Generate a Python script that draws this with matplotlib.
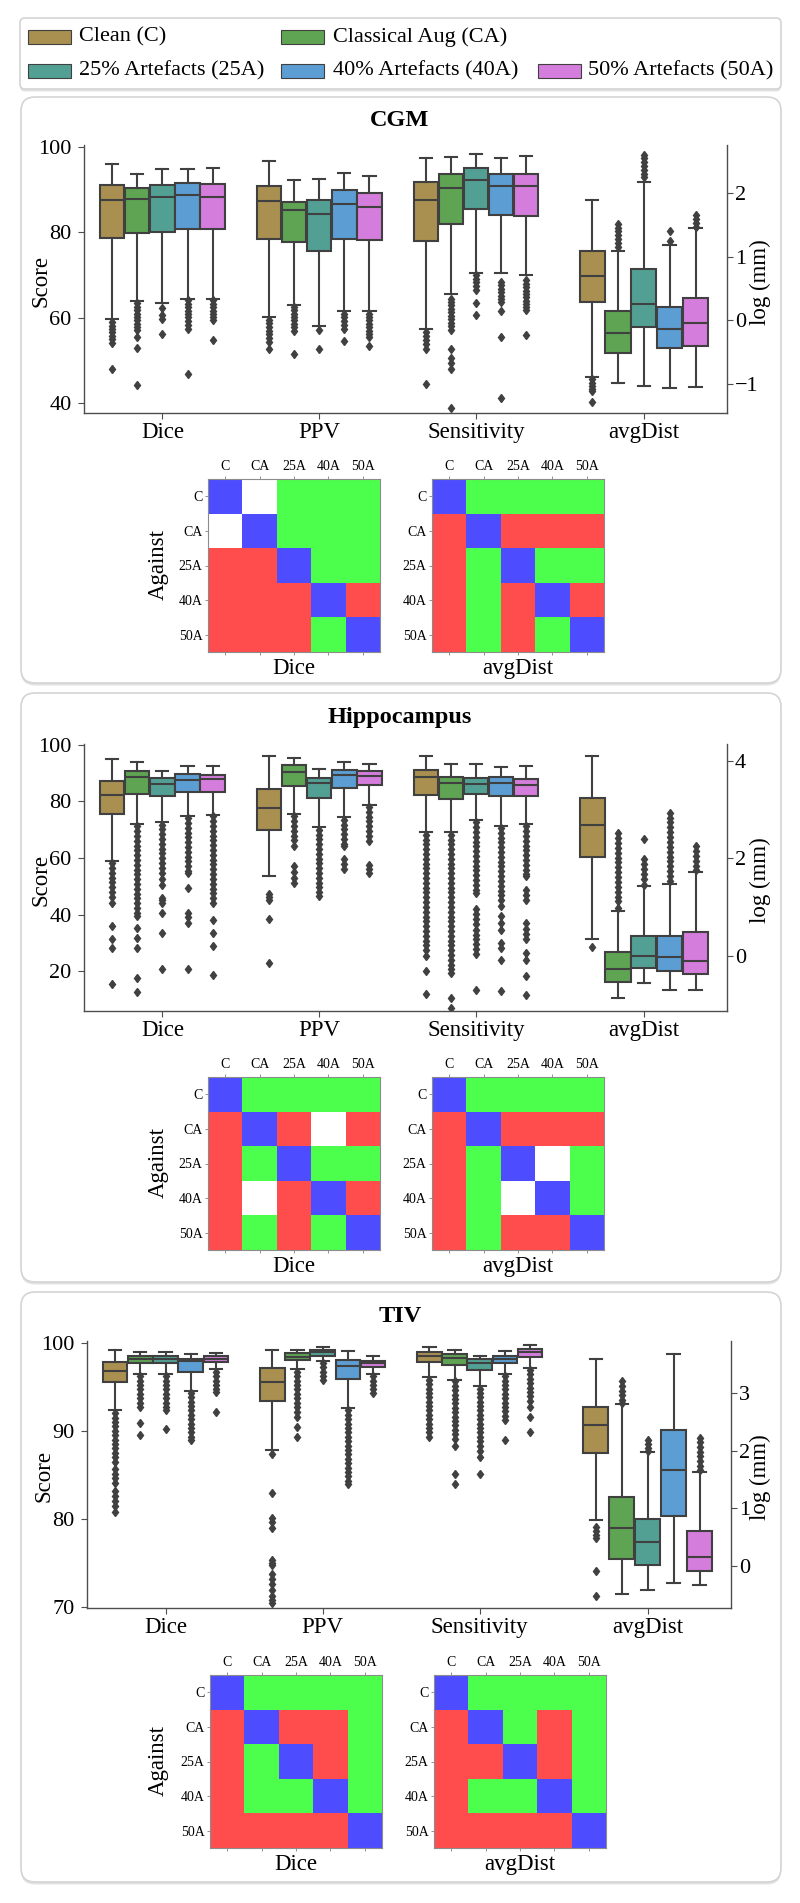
import numpy as np
import matplotlib
matplotlib.use("Agg")
import matplotlib.pyplot as plt
from matplotlib.colors import ListedColormap
from matplotlib.patches import FancyBboxPatch, Rectangle

plt.rcParams["font.family"] = ["Liberation Serif", "DejaVu Serif"]

W, H = 800, 1903
N = np.nan

methods = ["C", "CA", "25A", "40A", "50A"]
method_labels = ["Clean (C)", "Classical Aug (CA)", "25% Artefacts (25A)",
                 "40% Artefacts (40A)", "50% Artefacts (50A)"]
colours = ["#a99051", "#5fa453", "#52a094", "#5c9ed3", "#d57ddc"]
metrics = ["Dice", "PPV", "Sensitivity", "avgDist"]
regions = ["CGM", "Hippocampus", "TIV"]

# box stats per method: [lower whisker, q1, median, q3, upper whisker]
# ---------------- CGM ----------------
cgm_dice = [[59.7, 78.6, 87.7, 91.1, 96.0], [64.0, 79.8, 87.9, 90.5, 93.7],
            [63.4, 80.0, 88.2, 91.2, 94.8], [64.5, 80.9, 88.8, 91.7, 94.8],
            [64.5, 80.7, 88.4, 91.3, 95.0]]
cgm_dice_out = [[59.1, 58.2, 57.4, 56.6, 55.8, 55.0, 54.2, 48.1],
                [63.4, 62.6, 61.8, 61.0, 60.2, 59.4, 58.6, 57.8, 57.1, 55.5, 53.0, 44.2],
                [62.2, 60.6, 59.8, 56.3],
                [64.1, 63.3, 62.5, 61.7, 60.9, 60.1, 59.3, 58.4, 57.5, 46.8],
                [64.1, 63.3, 62.5, 61.7, 60.9, 60.1, 59.5, 54.8]]
cgm_ppv = [[60.2, 78.5, 87.4, 90.9, 96.7], [63.1, 77.7, 85.2, 87.2, 92.2],
           [58.1, 75.6, 84.3, 87.6, 92.6], [61.6, 78.4, 86.6, 89.9, 94.0],
           [61.6, 78.2, 86.0, 89.2, 93.3]]
cgm_ppv_out = [[59.5, 58.7, 57.9, 57.0, 56.2, 55.3, 54.4, 52.6],
               [62.6, 61.8, 61.0, 60.2, 59.4, 58.6, 57.8, 57.0, 51.6],
               [57.1, 52.6],
               [61.0, 60.2, 59.3, 58.4, 57.5, 54.5],
               [61.0, 60.2, 59.4, 58.6, 57.8, 57.0, 56.2, 55.5, 53.4]]
cgm_sens = [[57.3, 78.0, 87.7, 91.9, 97.5], [65.7, 81.9, 90.5, 93.6, 97.6],
            [70.4, 85.5, 92.3, 95.2, 98.5], [70.4, 84.0, 90.9, 93.7, 97.5],
            [70.1, 83.9, 90.9, 93.7, 98.0]]
cgm_sens_out = [[56.7, 55.8, 54.9, 53.9, 52.8, 44.5],
                [64.5, 63.7, 62.9, 62.1, 61.3, 60.5, 59.7, 58.9, 58.1, 57.1, 52.8, 50.5,
                 49.3, 48.1, 38.8],
                [70.0, 69.1, 68.3, 67.4, 66.5, 63.4, 60.6],
                [68.4, 67.6, 66.8, 66.0, 65.2, 64.4, 63.7, 61.6, 55.4, 41.1],
                [68.8, 68.0, 67.2, 66.4, 65.6, 64.8, 64.0, 63.2, 62.5, 61.8, 55.9]]
cgm_dist = [[-0.89, 0.29, 0.70, 1.09, 1.89], [-0.98, -0.52, -0.20, 0.15, 1.09],
            [-1.04, -0.11, 0.26, 0.81, 2.18], [-1.06, -0.44, -0.14, 0.21, 1.19],
            [-1.05, -0.40, -0.05, 0.35, 1.45]]
cgm_dist_out = [[-0.93, -0.98, -1.03, -1.08, -1.12, -1.28],
                [1.52, 1.46, 1.40, 1.34, 1.28, 1.22, 1.16],
                [2.61, 2.55, 2.49, 2.43, 2.37, 2.31, 2.25],
                [1.41, 1.25],
                [1.65, 1.59, 1.53, 1.47]]

# ---------------- Hippocampus ----------------
hip_dice = [[59.1, 75.6, 82.1, 87.3, 94.9], [72.1, 82.7, 88.8, 90.6, 94.1],
            [72.6, 81.8, 86.2, 88.2, 90.9], [74.9, 83.5, 87.6, 89.6, 92.4],
            [75.3, 83.5, 87.9, 89.2, 92.6]]
hip_dice_out = [[58.2, 56.5, 54.8, 53.1, 51.4, 49.7, 48.0, 46.2, 44.1, 35.9, 31.4, 28.2, 15.3],
                [71.2, 69.5, 67.8, 66.1, 64.4, 62.7, 61.0, 59.3, 57.6, 55.9, 54.2, 52.5,
                 50.8, 49.1, 47.4, 45.7, 44.0, 42.3, 40.6, 39.4, 35.3, 31.8, 28.2, 17.6, 12.6],
                [71.8, 70.1, 68.4, 66.7, 65.0, 63.3, 61.6, 59.9, 58.2, 56.5, 54.8, 52.4,
                 50.5, 46.0, 45.0, 44.1, 40.4, 33.5, 20.8],
                [74.1, 72.4, 70.7, 69.0, 67.3, 65.6, 63.9, 62.2, 60.5, 58.8, 57.1, 55.4,
                 54.7, 49.4, 40.6, 39.0, 37.1, 20.8],
                [74.7, 73.0, 71.3, 69.6, 67.9, 66.2, 64.5, 62.8, 61.1, 59.4, 57.7, 56.0,
                 54.3, 52.6, 50.9, 49.2, 47.5, 45.8, 44.1, 38.0, 33.5, 28.8, 18.7]]
hip_ppv = [[53.8, 69.8, 77.6, 84.4, 95.9], [75.5, 85.6, 90.4, 92.7, 95.3],
           [70.8, 81.3, 86.5, 88.2, 91.4], [74.5, 84.7, 89.4, 91.2, 94.1],
           [78.8, 85.9, 89.1, 90.9, 93.3]]
hip_ppv_out = [[47.1, 46.2, 45.3, 38.6, 22.9],
               [74.7, 73.0, 71.3, 69.6, 67.9, 66.2, 64.1, 57.1, 55.0, 53.0, 51.2],
               [70.0, 68.3, 66.6, 64.9, 63.2, 61.5, 59.8, 58.1, 56.4, 54.7, 53.0, 51.3,
                49.6, 47.9, 46.5],
               [73.5, 71.8, 70.1, 68.4, 66.7, 65.0, 64.1, 59.6, 58.0, 56.1],
               [78.0, 76.3, 74.6, 72.9, 71.2, 69.5, 67.8, 65.9, 57.6, 56.0, 54.7]]
hip_sens = [[69.1, 82.4, 88.5, 91.2, 95.9], [69.2, 80.8, 86.5, 88.6, 93.2],
            [73.5, 82.6, 86.2, 88.2, 93.2], [71.2, 81.8, 86.5, 88.5, 92.0],
            [72.1, 81.8, 85.8, 88.0, 92.6]]
hip_sens_out = [[68.2, 66.5, 64.8, 63.1, 61.4, 59.7, 58.0, 56.3, 54.6, 52.9, 51.2, 49.5,
                 47.8, 46.1, 44.4, 42.7, 41.0, 39.3, 37.6, 35.9, 34.2, 32.5, 30.8, 29.1,
                 27.4, 25.3, 20.0, 11.8],
                [68.2, 66.5, 64.8, 63.1, 61.4, 59.7, 58.0, 56.3, 54.6, 52.9, 51.2, 49.5,
                 47.8, 46.1, 44.4, 42.7, 41.0, 39.3, 37.6, 35.9, 34.2, 32.5, 30.8, 29.1,
                 27.4, 25.7, 24.0, 22.3, 20.6, 19.4, 10.6, 7.1],
                [72.6, 70.9, 69.2, 67.5, 65.8, 64.1, 62.4, 60.7, 59.0, 57.3, 55.6, 53.9,
                 52.2, 50.5, 48.8, 47.6, 41.8, 40.1, 38.4, 36.7, 34.7, 32.9, 31.2, 29.5,
                 27.8, 25.9, 13.5],
                [70.6, 68.9, 67.2, 65.5, 63.8, 62.1, 60.4, 58.7, 57.0, 55.3, 53.6, 51.9,
                 50.2, 48.5, 46.8, 45.1, 42.9, 39.4, 37.0, 34.7, 30.0, 28.0, 24.1, 12.9],
                [71.2, 69.5, 67.8, 66.1, 64.4, 62.7, 61.0, 59.3, 57.6, 55.9, 54.2, 53.5,
                 48.8, 47.0, 45.3, 37.1, 35.0, 33.0, 31.2, 26.5, 24.1, 18.2, 11.4]]
hip_dist = [[0.34, 2.04, 2.68, 3.25, 4.10], [-0.87, -0.53, -0.27, 0.08, 0.93],
            [-0.55, -0.25, 0.00, 0.41, 1.43], [-0.69, -0.30, -0.03, 0.40, 1.48],
            [-0.69, -0.37, -0.10, 0.49, 1.73]]
hip_dist_out = [[0.19],
                [2.52, 2.42, 2.32, 2.22, 2.12, 2.02, 1.92, 1.82, 1.72, 1.62, 1.52, 1.42,
                 1.32, 1.22, 1.12, 0.98],
                [2.40, 1.98, 1.88, 1.78, 1.68, 1.58, 1.46],
                [2.94, 2.84, 2.74, 2.64, 2.54, 2.44, 2.34, 2.24, 2.14, 2.04, 1.94, 1.84,
                 1.74, 1.64, 1.53],
                [2.25, 2.15, 2.05, 1.95, 1.85, 1.76]]

# ---------------- TIV ----------------
tiv_dice = [[92.3, 95.5, 96.8, 97.8, 99.2], [96.4, 97.7, 98.1, 98.5, 99.0],
            [96.4, 97.7, 98.1, 98.5, 98.9], [94.5, 96.7, 97.9, 98.1, 98.7],
            [97.0, 97.8, 98.1, 98.5, 98.8]]
tiv_dice_out = [[92.0, 91.5, 91.0, 90.5, 90.0, 89.5, 89.0, 88.5, 88.0, 87.5, 87.0, 86.4,
                 85.6, 85.1, 84.6, 84.1, 83.1, 82.6, 82.0, 81.4, 80.8],
                [96.2, 95.7, 95.2, 94.7, 94.2, 93.7, 93.2, 92.7, 90.9, 89.5],
                [96.2, 95.7, 95.2, 94.7, 94.2, 93.7, 93.2, 92.7, 92.3, 90.2],
                [94.3, 93.8, 93.3, 92.8, 92.3, 91.8, 91.3, 90.8, 90.3, 89.8, 89.3, 88.9],
                [96.7, 96.2, 95.7, 95.2, 94.7, 94.4, 92.1]]
tiv_ppv = [[87.8, 93.4, 95.5, 97.1, 99.2], [97.0, 98.0, 98.4, 98.8, 99.2],
           [97.9, 98.5, 98.9, 99.2, 99.5], [92.6, 95.9, 97.4, 98.0, 99.1],
           [96.5, 97.3, 97.7, 97.9, 98.5]]
tiv_ppv_out = [[87.3, 82.9, 80.1, 79.6, 79.0, 75.3, 75.0, 74.7, 73.7, 73.2, 72.6, 71.9,
                71.2, 70.8, 70.4],
               [96.7, 96.2, 95.7, 95.2, 94.7, 94.2, 93.7, 93.2, 92.7, 92.1, 91.6, 90.4, 89.3],
               [97.7, 97.2, 96.7, 96.2, 95.8],
               [92.3, 91.8, 91.3, 90.8, 90.3, 89.8, 89.3, 88.8, 88.3, 87.8, 87.3, 86.8,
                86.3, 85.8, 85.3, 84.8, 84.3, 83.9],
               [96.2, 95.7, 95.2, 94.7, 94.3]]
tiv_sens = [[96.1, 97.8, 98.5, 98.9, 99.5], [95.8, 97.5, 98.3, 98.7, 99.2],
            [95.1, 96.9, 97.7, 98.1, 98.5], [96.5, 97.7, 98.2, 98.5, 99.1],
            [97.1, 98.4, 98.9, 99.3, 99.7]]
tiv_sens_out = [[95.8, 95.3, 94.8, 94.3, 93.8, 93.3, 92.8, 92.3, 91.8, 91.3, 90.8, 90.3,
                 89.8, 89.3],
                [95.6, 95.1, 94.6, 94.1, 93.6, 93.1, 92.6, 92.1, 91.6, 91.1, 90.6, 90.1,
                 89.6, 89.1, 88.3, 85.1, 84.0],
                [94.8, 94.3, 93.8, 93.3, 92.8, 92.3, 91.8, 91.3, 90.8, 90.3, 89.8, 89.3,
                 88.8, 88.3, 87.7, 87.0, 85.1],
                [96.2, 95.7, 95.2, 94.7, 94.2, 93.7, 93.2, 92.7, 92.2, 91.7, 91.2, 89.0],
                [96.9, 96.4, 95.9, 95.4, 94.9, 94.4, 93.9, 93.4, 92.7, 91.6, 89.8]]
tiv_dist = [[0.79, 1.95, 2.45, 2.76, 3.58], [-0.49, 0.12, 0.65, 1.20, 2.80],
            [-0.41, 0.02, 0.41, 0.81, 1.97], [-0.29, 0.87, 1.67, 2.35, 3.68],
            [-0.33, -0.09, 0.15, 0.61, 1.62]]
tiv_dist_out = [[0.67, 0.60, 0.53, 0.48, -0.08, -0.53],
                [3.20, 3.12, 3.04, 2.96, 2.88, 2.83],
                [2.19, 2.12, 2.05, 1.99],
                [],
                [2.22, 2.14, 2.06, 1.98, 1.90, 1.82, 1.74, 1.67]]

# pairwise tests (row = against, col = method): 0 same, 1 better, -1 worse, nan = n.s.
cgm_dice_sig = [[0, N, 1, 1, 1], [N, 0, 1, 1, 1], [-1, -1, 0, 1, 1],
                [-1, -1, -1, 0, -1], [-1, -1, -1, 1, 0]]
cgm_dist_sig = [[0, 1, 1, 1, 1], [-1, 0, -1, -1, -1], [-1, 1, 0, 1, 1],
                [-1, 1, -1, 0, -1], [-1, 1, -1, 1, 0]]
hip_dice_sig = [[0, 1, 1, 1, 1], [-1, 0, -1, N, -1], [-1, 1, 0, 1, 1],
                [-1, N, -1, 0, -1], [-1, 1, -1, 1, 0]]
hip_dist_sig = [[0, 1, 1, 1, 1], [-1, 0, -1, -1, -1], [-1, 1, 0, N, 1],
                [-1, 1, N, 0, 1], [-1, 1, -1, -1, 0]]
tiv_dice_sig = [[0, 1, 1, 1, 1], [-1, 0, -1, -1, 1], [-1, 1, 0, -1, 1],
                [-1, 1, 1, 0, 1], [-1, -1, -1, -1, 0]]
tiv_dist_sig = [[0, 1, 1, 1, 1], [-1, 0, 1, -1, 1], [-1, -1, 0, -1, 1],
                [-1, 1, 1, 0, 1], [-1, -1, -1, -1, 0]]

score_data = [[(cgm_dice, cgm_dice_out), (cgm_ppv, cgm_ppv_out), (cgm_sens, cgm_sens_out)],
              [(hip_dice, hip_dice_out), (hip_ppv, hip_ppv_out), (hip_sens, hip_sens_out)],
              [(tiv_dice, tiv_dice_out), (tiv_ppv, tiv_ppv_out), (tiv_sens, tiv_sens_out)]]
dist_data = [(cgm_dist, cgm_dist_out), (hip_dist, hip_dist_out), (tiv_dist, tiv_dist_out)]
sig_data = [(cgm_dice_sig, cgm_dist_sig), (hip_dice_sig, hip_dist_sig),
            (tiv_dice_sig, tiv_dist_sig)]

score_lims = [(37.7, 100.5), (5.9, 100.3), (69.85, 100.2)]
score_ticks = [[40, 60, 80, 100], [20, 40, 60, 80, 100], [70, 80, 90, 100]]
dist_lims = [(-1.46, 2.76), (-1.13, 4.35), (-0.73, 3.9)]
dist_ticks = [[-1, 0, 1, 2], [0, 2, 4], [0, 1, 2, 3]]

# layout in pixels (x0, y0, x1, y1), y measured from the top
frames = [(21, 97, 760, 586), (21, 693, 760, 589), (21, 1292, 760, 590)]
title_y = [120, 718, 1317]
box_rects = [(84, 145, 727, 413), (84, 744, 727, 1011), (87, 1341, 731, 1608)]
heat_tops = [479, 1077, 1675]
heat_lefts = [(208, 432), (208, 432), (210, 434)]

grey = "#404040"
avg_pos = 3.07


def fig_rect(x0, y0, x1, y1):
    return [x0 / W, 1 - y1 / H, (x1 - x0) / W, (y1 - y0) / H]


def draw_boxes(ax, centre, step, stats, fliers):
    for i in range(5):
        lo, q1, med, q3, hi = stats[i]
        ax.bxp([dict(whislo=lo, q1=q1, med=med, q3=q3, whishi=hi, fliers=fliers[i])],
               positions=[centre + (i - 2) * step], widths=step * 0.97,
               patch_artist=True, manage_ticks=False,
               boxprops=dict(facecolor=colours[i], edgecolor=grey, linewidth=1.5),
               medianprops=dict(color=grey, linewidth=1.5),
               whiskerprops=dict(color=grey, linewidth=1.5),
               capprops=dict(color=grey, linewidth=1.5),
               flierprops=dict(marker="d", markerfacecolor=grey, markeredgecolor=grey,
                               markersize=4.5))


fig = plt.figure(figsize=(W / 100, H / 100), dpi=100)
bg = fig.add_axes([0, 0, 1, 1], zorder=-1)
bg.set_xlim(0, W)
bg.set_ylim(H, 0)
bg.axis("off")


def frame(x, y, w, h, r):
    style = "round,pad=0,rounding_size=%d" % r
    bg.add_patch(FancyBboxPatch((x, y + 2.5), w, h, boxstyle=style, fc="#e2e2e2", ec="none"))
    bg.add_patch(FancyBboxPatch((x, y), w, h, boxstyle=style, fc="white", ec="#d4d4d4", lw=1.2))


# legend
frame(20, 18, 761, 71, 5)
leg_cells = [(0, 0), (1, 0), (0, 1), (1, 1), (2, 1)]
patch_x = [28, 281, 538]
text_x = [79, 333, 588]
row_y = [37, 71]
for i, (c, r) in enumerate(leg_cells):
    bg.add_patch(Rectangle((patch_x[c], row_y[r] - 7), 43, 14, fc=colours[i], ec=grey, lw=0.8))
    bg.text(text_x[c], row_y[r], method_labels[i], fontsize=16, va="center", ha="left")

cmap = ListedColormap(["#ff4d4d", "#4d4dff", "#4dff4d"])
cmap.set_bad("white")

for p in range(3):
    frame(*frames[p], 14)
    bg.text(400, title_y[p], regions[p], fontsize=17.5, fontweight="bold",
            ha="center", va="center")

    x0, y0, x1, y1 = box_rects[p]
    ax = fig.add_axes(fig_rect(*box_rects[p]))
    ax.set_facecolor("none")
    for k in range(3):
        draw_boxes(ax, k, 0.16, *score_data[p][k])
    ax2 = ax.twinx()
    draw_boxes(ax2, avg_pos, 0.165, *dist_data[p])

    ax.set_xlim(-0.5, 3.6)
    ax.set_ylim(*score_lims[p])
    ax.set_yticks(score_ticks[p])
    ax.set_xticks([0, 1, 2, avg_pos])
    ax.set_xticklabels(metrics)
    ax2.set_ylim(*dist_lims[p])
    ax2.set_yticks(dist_ticks[p])
    for s in ["top", "right"]:
        ax.spines[s].set_visible(False)
    for s in ["top", "left", "bottom"]:
        ax2.spines[s].set_visible(False)
    for a in (ax, ax2):
        for s in a.spines.values():
            s.set_color("0.3")
            s.set_linewidth(1.0)
    ax.tick_params(axis="y", labelsize=16, length=4, color="0.3", pad=5)
    ax.tick_params(axis="x", labelsize=16.5, length=4, color="0.3", pad=2.5)
    ax2.tick_params(axis="y", labelsize=16, length=4, color="0.3", pad=1.5)

    mid = (y0 + y1) / 2
    fig.text((x0 - 43) / W, 1 - (mid + 2) / H, "Score", rotation=90, fontsize=16.5,
             ha="center", va="center")
    fig.text(760 / W, 1 - (mid + 3) / H, "log (mm)", rotation=90, fontsize=16.5,
             ha="center", va="center")

    # significance matrices
    ht = heat_tops[p]
    for j, lab in enumerate(["Dice", "avgDist"]):
        hx = heat_lefts[p][j]
        hax = fig.add_axes(fig_rect(hx, ht, hx + 172, ht + 173))
        hax.imshow(np.array(sig_data[p][j], dtype=float), cmap=cmap, vmin=-1, vmax=1,
                   aspect="auto", interpolation="nearest")
        hax.set_xticks(range(5))
        hax.set_xticklabels(methods)
        hax.set_yticks(range(5))
        hax.set_yticklabels(methods)
        hax.tick_params(axis="x", top=True, bottom=True, labeltop=True, labelbottom=False,
                        labelsize=10, length=2.5, width=0.6, color="0.5", pad=2)
        hax.tick_params(axis="y", labelsize=10, length=2.5, width=0.6, color="0.5", pad=1.5)
        hax.xaxis.set_label_position("bottom")
        hax.set_xlabel(lab, fontsize=16.5, labelpad=2)
        for s in hax.spines.values():
            s.set_color("0.55")
            s.set_linewidth(0.8)
    fig.text(158 / W, 1 - (ht + 86) / H, "Against", rotation=90, fontsize=16.5,
             ha="center", va="center")

fig.savefig("out.png", dpi=100)
